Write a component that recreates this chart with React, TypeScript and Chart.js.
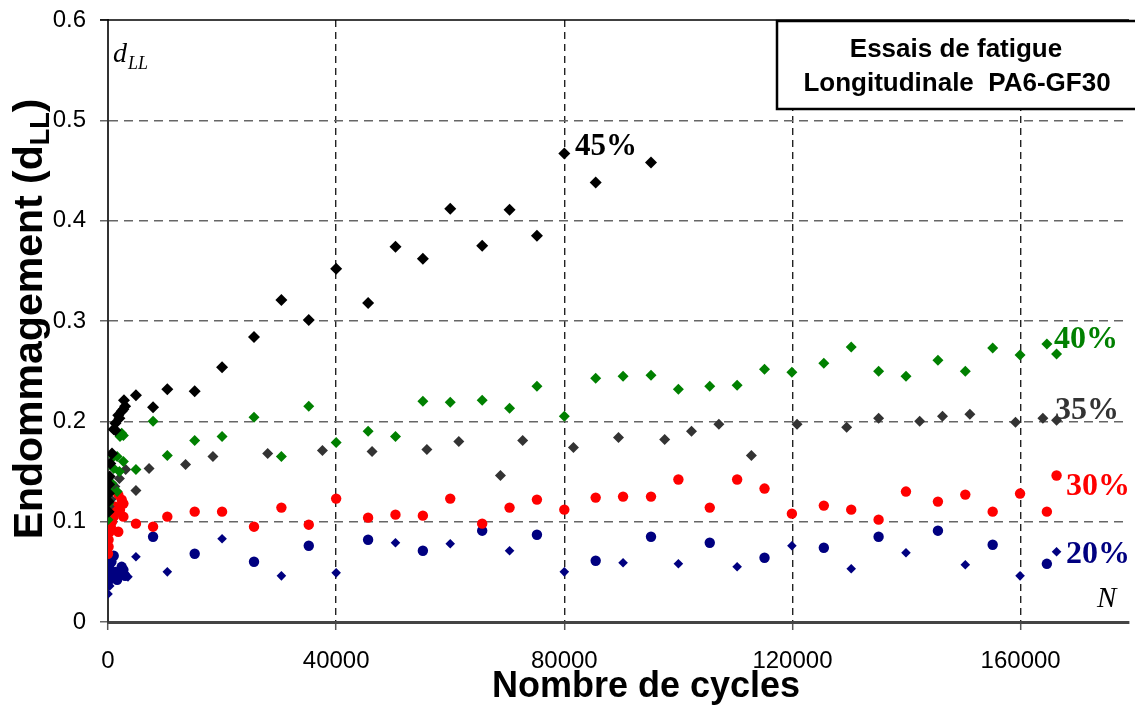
import React, { useEffect, useRef } from "react";
import { Chart, registerables } from "chart.js";

Chart.register(...registerables);

// Axis ticks
const xTickValues = [0, 40000, 80000, 120000, 160000];
const yTickValues = [0, 0.1, 0.2, 0.3, 0.4, 0.5, 0.6];
const xMax = 179000;
const yMax = 0.6;

// 45 % (black diamonds)
const n45 = [100, 100, 150, 200, 300, 400, 700, 1000, 1300, 1300, 1800, 2000, 2400, 2700, 2800, 3000, 4900, 7900, 10400, 15200, 20000, 25600, 30400, 35200, 40000, 45600, 50400, 55200, 60000, 65600, 70400, 75200, 80000, 85500, 95200];
const d45 = [0.110, 0.120, 0.128, 0.137, 0.145, 0.158, 0.168, 0.192, 0.191, 0.198, 0.206, 0.203, 0.210, 0.212, 0.221, 0.215, 0.226, 0.214, 0.232, 0.230, 0.254, 0.284, 0.321, 0.301, 0.352, 0.318, 0.374, 0.362, 0.412, 0.375, 0.411, 0.385, 0.467, 0.438, 0.458];

// 40 % (green diamonds)
const n40 = [0, 100, 400, 700, 1000, 1000, 1600, 1600, 2000, 2100, 2400, 2700, 2700, 4900, 7900, 10400, 15200, 20000, 25600, 30400, 35200, 40000, 45600, 50400, 55200, 60000, 65600, 70400, 75200, 80000, 85500, 90300, 95200, 100000, 105500, 110300, 115100, 119900, 125500, 130300, 135100, 139900, 145500, 150300, 155100, 159900, 164600, 166300];
const d40 = [0.102, 0.118, 0.130, 0.138, 0.153, 0.165, 0.130, 0.165, 0.150, 0.185, 0.188, 0.160, 0.186, 0.152, 0.200, 0.166, 0.181, 0.185, 0.204, 0.165, 0.215, 0.179, 0.190, 0.185, 0.220, 0.219, 0.221, 0.213, 0.235, 0.205, 0.243, 0.245, 0.246, 0.232, 0.235, 0.236, 0.252, 0.249, 0.258, 0.274, 0.250, 0.245, 0.261, 0.250, 0.273, 0.266, 0.277, 0.267];

// 35 % (dark grey diamonds)
const n35 = [200, 500, 1200, 2000, 3100, 4900, 7200, 13600, 18400, 28000, 37600, 46300, 55900, 61500, 68800, 72700, 81600, 89500, 97600, 102300, 107100, 112800, 120800, 129500, 135100, 142300, 146300, 151100, 159100, 163900, 166300];
const d35 = [0.115, 0.122, 0.135, 0.143, 0.152, 0.131, 0.153, 0.157, 0.165, 0.168, 0.171, 0.170, 0.172, 0.180, 0.146, 0.181, 0.174, 0.184, 0.182, 0.190, 0.197, 0.166, 0.197, 0.194, 0.203, 0.200, 0.205, 0.207, 0.199, 0.203, 0.201];

// 30 % (red circles)
const n30 = [0, 100, 100, 300, 500, 700, 1000, 1300, 1600, 1800, 1800, 2100, 2400, 2700, 2700, 4900, 7900, 10400, 15200, 20000, 25600, 30400, 35200, 40000, 45600, 50400, 55200, 60000, 65600, 70400, 75200, 80000, 85500, 90300, 95200, 100000, 105500, 110300, 115100, 119900, 125500, 130300, 135100, 139900, 145500, 150300, 155100, 159900, 164600, 166300];
const d30 = [0.068, 0.075, 0.082, 0.090, 0.095, 0.100, 0.105, 0.115, 0.110, 0.127, 0.090, 0.112, 0.122, 0.118, 0.105, 0.098, 0.095, 0.105, 0.110, 0.110, 0.095, 0.114, 0.097, 0.123, 0.104, 0.107, 0.106, 0.123, 0.098, 0.114, 0.122, 0.112, 0.124, 0.125, 0.125, 0.142, 0.114, 0.142, 0.133, 0.108, 0.116, 0.112, 0.102, 0.130, 0.120, 0.127, 0.110, 0.128, 0.110, 0.146];

// 20 % (navy circles)
const n20a = [0, 100, 200, 400, 600, 1000, 1300, 1600, 2000, 2400, 2700, 3000, 7900, 15200, 25600, 35200, 45600, 55200, 65600, 75200, 85500, 95200, 105500, 115100, 125500, 135100, 145500, 155100, 164600];
const d20a = [0.040, 0.050, 0.056, 0.045, 0.060, 0.066, 0.050, 0.042, 0.048, 0.055, 0.052, 0.046, 0.085, 0.068, 0.060, 0.076, 0.082, 0.071, 0.091, 0.087, 0.061, 0.085, 0.079, 0.064, 0.074, 0.085, 0.091, 0.077, 0.058];

// 20 % (navy diamonds)
const n20b = [0, 300, 1000, 2000, 3500, 4900, 10400, 20000, 30400, 40000, 50400, 60000, 70400, 80000, 90300, 100000, 110300, 119900, 130300, 139900, 150300, 159900, 166300];
const d20b = [0.028, 0.036, 0.046, 0.044, 0.045, 0.065, 0.050, 0.083, 0.046, 0.049, 0.079, 0.078, 0.071, 0.050, 0.059, 0.058, 0.055, 0.076, 0.053, 0.069, 0.057, 0.046, 0.070];

const toPoints = (xs: number[], ys: number[]) => xs.map((x, i) => ({ x, y: ys[i] }));

const SANS = "'Liberation Sans', Arial, sans-serif";
const SERIF = "'Liberation Serif', 'Times New Roman', serif";

const overlayPlugin = {
  id: "overlay",
  afterDraw(chart: any) {
    const ctx: CanvasRenderingContext2D = chart.ctx;
    const { left, right, top } = chart.chartArea;
    ctx.save();
    ctx.setLineDash([]);

    // top frame line at 0.6
    ctx.strokeStyle = "#000";
    ctx.lineWidth = 1.5;
    ctx.beginPath();
    ctx.moveTo(left - 8, top);
    ctx.lineTo(right, top);
    ctx.stroke();

    // title box
    ctx.fillStyle = "#fff";
    ctx.fillRect(777, 21, 370, 88);
    ctx.strokeStyle = "#000";
    ctx.lineWidth = 2.5;
    ctx.strokeRect(777, 21, 370, 88);
    ctx.fillStyle = "#000";
    ctx.font = `bold 26px ${SANS}`;
    ctx.textAlign = "center";
    ctx.textBaseline = "alphabetic";
    ctx.fillText("Essais de fatigue", 956, 57);
    ctx.fillText("Longitudinale  PA6-GF30", 957, 91);

    // series labels
    ctx.textAlign = "left";
    ctx.font = `bold 31px ${SERIF}`;
    ctx.fillStyle = "#000";
    ctx.fillText("45%", 575, 155);
    ctx.font = `bold 32px ${SERIF}`;
    ctx.fillStyle = "#008000";
    ctx.fillText("40%", 1054, 348);
    ctx.fillStyle = "#333333";
    ctx.fillText("35%", 1055, 419);
    ctx.fillStyle = "#ff0000";
    ctx.fillText("30%", 1066, 495);
    ctx.fillStyle = "#000080";
    ctx.fillText("20%", 1066, 563);

    // axis symbols
    ctx.fillStyle = "#000";
    ctx.font = `italic 29px ${SERIF}`;
    ctx.fillText("N", 1097, 607);
    ctx.font = `italic 28px ${SERIF}`;
    ctx.fillText("d", 113, 62);
    ctx.font = `italic 18px ${SERIF}`;
    ctx.fillText("LL", 128, 69);

    // x axis title
    ctx.font = `bold 36px ${SANS}`;
    ctx.textAlign = "center";
    ctx.fillText("Nombre de cycles", 646, 697);

    // y axis title (with subscript)
    const mainFont = `bold 41px ${SANS}`;
    const subFont = `bold 27px ${SANS}`;
    ctx.font = mainFont;
    const p1 = "Endommagement (d";
    const p3 = ")";
    const w1 = ctx.measureText(p1).width;
    const w3 = ctx.measureText(p3).width;
    ctx.font = subFont;
    const w2 = ctx.measureText("LL").width;
    const total = w1 + w2 + w3;
    ctx.translate(42, 319);
    ctx.rotate(-Math.PI / 2);
    ctx.textAlign = "left";
    let x0 = -total / 2;
    ctx.font = mainFont;
    ctx.fillText(p1, x0, 0);
    x0 += w1;
    ctx.font = subFont;
    ctx.fillText("LL", x0, 7);
    x0 += w2;
    ctx.font = mainFont;
    ctx.fillText(p3, x0, 0);

    ctx.restore();
  },
};

export default function App() {
  const canvasRef = useRef<HTMLCanvasElement | null>(null);

  useEffect(() => {
    document.body.style.margin = "0";
    const canvas = canvasRef.current;
    if (!canvas) return;

    const mk = (label: string, xs: number[], ys: number[], color: string, style: string, r: number) => ({
      label,
      data: toPoints(xs, ys),
      backgroundColor: color,
      borderColor: color,
      borderWidth: 0,
      pointStyle: style,
      pointRadius: r,
      pointHoverRadius: r,
      showLine: false,
    });

    const chart = new Chart(canvas, {
      type: "scatter",
      data: {
        datasets: [
          mk("45%", n45, d45, "#000000", "rectRot", 6),
          mk("40%", n40, d40, "#008000", "rectRot", 5.5),
          mk("35%", n35, d35, "#333333", "rectRot", 5.5),
          mk("30%", n30, d30, "#ff0000", "circle", 5.2),
          mk("20% a", n20b, d20b, "#000080", "rectRot", 4.8),
          mk("20% b", n20a, d20a, "#000080", "circle", 5.2),
        ] as any,
      },
      options: {
        responsive: false,
        devicePixelRatio: 1,
        animation: false,
        events: [],
        layout: { padding: { top: 20, right: 0, left: 0, bottom: 0 } },
        plugins: {
          legend: { display: false },
          tooltip: { enabled: false },
          title: { display: false },
        },
        scales: {
          x: {
            type: "linear",
            min: 0,
            max: xMax,
            afterBuildTicks: (s: any) => {
              s.ticks = xTickValues.map((v) => ({ value: v }));
            },
            afterFit: (s: any) => {
              s.height = 83;
              s.paddingLeft = 0;
              s.paddingRight = 0;
            },
            ticks: {
              color: "#000",
              font: { family: SANS, size: 24 },
              padding: 17,
              maxRotation: 0,
              autoSkip: false,
              callback: (v: any) => String(v),
            },
            grid: {
              color: (c: any) => (c.tick && c.tick.value === 0 ? "rgba(0,0,0,0)" : "#222222"),
              lineWidth: 1.4,
              tickColor: "#555555",
              tickLength: 8,
              tickWidth: 1.5,
              tickBorderDash: [],
            },
            border: { display: true, color: "#444444", width: 3, dash: [7, 5] },
          },
          y: {
            type: "linear",
            min: 0,
            max: yMax,
            afterBuildTicks: (s: any) => {
              s.ticks = yTickValues.map((v) => ({ value: v }));
            },
            afterFit: (s: any) => {
              s.width = 108;
              s.paddingTop = 0;
              s.paddingBottom = 0;
            },
            ticks: {
              color: "#000",
              font: { family: SANS, size: 24 },
              padding: 14,
              autoSkip: false,
              callback: (v: any) => String(Math.round(v * 10) / 10),
            },
            grid: {
              color: (c: any) =>
                c.tick && (c.tick.value === 0 || Math.abs(c.tick.value - 0.6) < 1e-9)
                  ? "rgba(0,0,0,0)"
                  : "#666666",
              lineWidth: 1.5,
              tickColor: "#666666",
              tickLength: 8,
              tickWidth: 1.5,
              tickBorderDash: [],
            },
            border: { display: true, color: "#333333", width: 2, dash: [9, 6] },
          },
        },
      } as any,
      plugins: [overlayPlugin],
    });

    return () => {
      chart.destroy();
    };
  }, []);

  return <canvas ref={canvasRef} width={1135} height={705} style={{ display: "block" }} />;
}
